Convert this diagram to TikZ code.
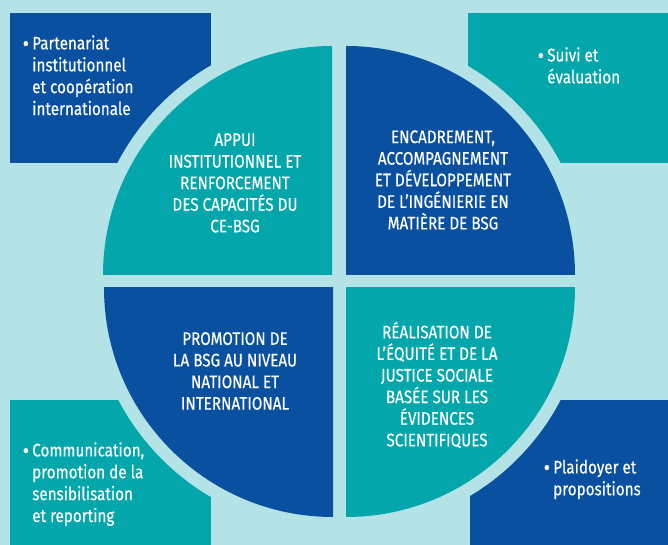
\documentclass[tikz,border=0pt]{standalone}
\usepackage{fontspec}
\setmainfont{Fira Sans}[FakeStretch=0.84,FakeBold=0.4]
\definecolor{bgcyan}{HTML}{B3E3E6}
\definecolor{bsgblue}{HTML}{0A50A1}
\definecolor{bsgteal}{HTML}{03A6AA}
\newcommand{\bsgdot}{\llap{\raisebox{-0.2ex}{\fontsize{17}{0}\selectfont\textbullet}\hspace{2.5pt}}}

\begin{document}
\begin{tikzpicture}[x=0.75pt,y=-0.75pt,
    quad/.style={text=white,align=center,inner sep=0pt,
        font=\fontsize{13.6}{16.2}\selectfont},
    side/.style={text=white,align=left,anchor=north west,inner sep=0pt,
        font=\fontsize{13.6}{16.4}\selectfont}]
    % background
    \fill[bgcyan] (0,0) rectangle (668,545);

    % corner boxes
    \fill[bsgblue] (10,13) rectangle (211,163);
    \fill[bsgteal] (468,13) rectangle (668,163);
    \fill[bsgteal] (10,400) rectangle (211,545);
    \fill[bsgblue] (470,400) rectangle (668,545);

    % quarter discs, with a gap cut into the boxes
    \begin{scope}
    \clip (0,0) rectangle (332,275);
    \fill[bgcyan] (332,275) circle (242);
    \fill[bsgteal] (332,275) circle (229);
    \end{scope}
    \begin{scope}
    \clip (346,0) rectangle (668,275);
    \fill[bgcyan] (346,275) circle (242);
    \fill[bsgblue] (346,275) circle (229);
    \end{scope}
    \begin{scope}
    \clip (0,288) rectangle (333,545);
    \fill[bgcyan] (333,288) circle (242);
    \fill[bsgblue] (333,288) circle (229);
    \end{scope}
    \begin{scope}
    \clip (346,288) rectangle (668,545);
    \fill[bgcyan] (346,288) circle (242);
    \fill[bsgteal] (346,288) circle (229);
    \end{scope}

    % P1 - quadrant titles
    \node[quad] (appui) at (235,183) {APPUI\\INSTITUTIONNEL ET\\RENFORCEMENT\\DES CAPACITÉS DU\\CE-BSG};
    \node[quad] (encadr) at (443,180) {ENCADREMENT,\\ACCOMPAGNEMENT\\ET DÉVELOPPEMENT\\DE L’INGÉNIERIE EN\\MATIÈRE DE BSG};
    \node[quad] (promo) at (235,371) {PROMOTION DE\\LA BSG AU NIVEAU\\NATIONAL ET\\INTERNATIONAL};
    \node[quad] (equite) at (437,385) {RÉALISATION DE\\L’ÉQUITÉ ET DE LA\\JUSTICE SOCIALE\\BASÉE SUR LES\\ÉVIDENCES\\SCIENTIFIQUES};

    % P2 - corner items
    \node[side] (parten) at (32,35) {\bsgdot Partenariat\\institutionnel\\et coopération\\internationale};
    \node[side] (suivi) at (547,47) {\bsgdot Suivi et\\évaluation};
    \node[side] (commu) at (32,442) {\bsgdot Communication,\\promotion de la\\sensibilisation\\et reporting};
    \node[side] (plaid) at (553,459) {\bsgdot Plaidoyer et\\propositions};
\end{tikzpicture}
\end{document}
